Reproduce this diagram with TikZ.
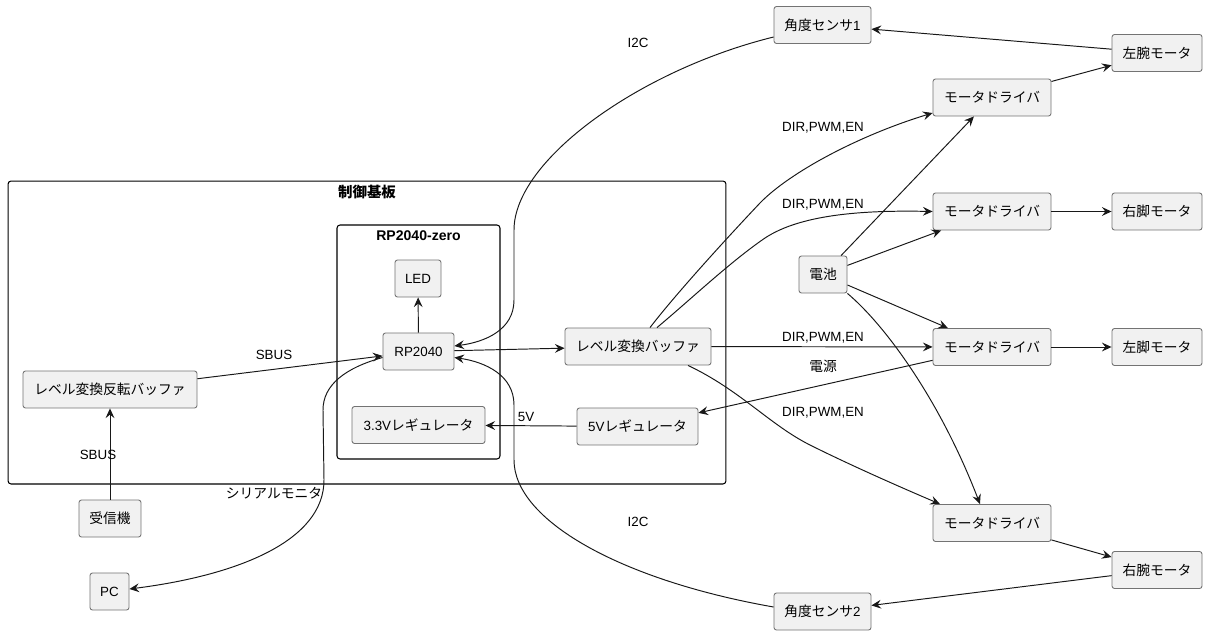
\documentclass[tikz,border=0pt]{standalone}
\usepackage{fontspec}
\setmainfont{Liberation Sans}
\newfontfamily\jpfont{Noto Sans CJK JP}[Scale=1.03]
\newcommand\J[1]{{\jpfont #1}}
\usetikzlibrary{arrows.meta,calc}
\definecolor{boxfill}{HTML}{F1F1F1}
\definecolor{edgecol}{HTML}{181818}
\begin{document}
\begin{tikzpicture}[x=0.02cm,y=-0.02cm,
  box/.style={draw=black!55, line width=0.5pt, fill=boxfill, rounded corners=0.05cm,
    minimum height=0.74cm, inner sep=0pt, font=\fontsize{7.6}{9}\selectfont},
  frame/.style={draw=black, line width=0.6pt, rounded corners=0.06cm, inner sep=0pt},
  title/.style={font=\fontsize{8}{10}\selectfont\bfseries, inner sep=0pt},
  lbl/.style={font=\fontsize{7.6}{9}\selectfont, inner sep=0pt},
  conn/.style={draw=edgecol, line width=0.55pt, -{Stealth[length=5.5pt,width=5pt,inset=2pt]}}]
\useasboundingbox (0,0) rectangle (1207,635);
\fill[white] (0,0) rectangle (1207,635);

% frames
\node[frame, minimum width=14.36cm, minimum height=6.06cm] (board) at (367,332.5) {};
\node[title] (boardtitle) at (367,192) {\J{制御基板}};
\node[frame, minimum width=3.26cm, minimum height=4.68cm] (rpzero) at (418.5,342) {};
\node[title] (rptitle) at (418.5,236) {RP2040-zero};

% nodes
\node[box, minimum width=1.94cm] (s1) at (822.5,25) {\J{角度センサ}1};
\node[box, minimum width=1.80cm] (lam) at (1157,53) {\J{左腕モータ}};
\node[box, minimum width=2.36cm] (md1) at (992,97.5) {\J{モータドライバ}};
\node[box, minimum width=2.36cm] (md2) at (992,211.5) {\J{モータドライバ}};
\node[box, minimum width=1.80cm] (rlm) at (1157,211.5) {\J{右脚モータ}};
\node[box, minimum width=0.96cm] (bat) at (823,274.5) {\J{電池}};
\node[box, minimum width=2.36cm] (md3) at (992,347) {\J{モータドライバ}};
\node[box, minimum width=1.80cm] (llm) at (1157,347) {\J{左脚モータ}};
\node[box, minimum width=2.36cm] (md4) at (992,523) {\J{モータドライバ}};
\node[box, minimum width=1.80cm] (ram) at (1157,570) {\J{右腕モータ}};
\node[box, minimum width=1.94cm] (s2) at (822.5,611.5) {\J{角度センサ}2};
\node[box, minimum width=0.92cm] (led) at (418,278.5) {LED};
\node[box, minimum width=1.42cm] (rp) at (418.5,351.5) {RP2040};
\node[box, minimum width=2.66cm] (r33) at (418.5,425) {3.3V\J{レギュレータ}};
\node[box, minimum width=2.92cm] (lvb) at (638,346.5) {\J{レベル変換バッファ}};
\node[box, minimum width=2.42cm] (r5) at (637.5,426.5) {5V\J{レギュレータ}};
\node[box, minimum width=3.48cm] (lvi) at (110,389.5) {\J{レベル変換反転バッファ}};
\node[box, minimum width=1.24cm] (rx) at (110,518.5) {\J{受信機}};
\node[box, minimum width=0.78cm] (pc) at (109.5,591.5) {PC};

% straight connectors
\draw[conn] (rx) -- (lvi);
\draw[conn] (lvi) -- (rp);
\draw[conn] (rp) -- (led);
\draw[conn] (rp) -- (lvb);
\draw[conn] (r5) -- (r33);
\draw[conn] (md3) -- (r5);
\draw[conn] (lvb) -- (md3);
\draw[conn] (bat) -- (md1);
\draw[conn] (bat) -- (md2);
\draw[conn] (bat) -- (md3);
\draw[conn] (md1) -- (lam);
\draw[conn] (md2) -- (rlm);
\draw[conn] (md3) -- (llm);
\draw[conn] (md4) -- (ram);
\draw[conn] (lam) -- (s1);
\draw[conn] (ram) -- (s2);

% curved connectors
\draw[conn] ($(s1.west)+(0,12)$) .. controls (640,70) and (514,160) .. (514,230)
  -- (514,300) .. controls (514,330) and (485,342) .. ($(rp.east)+(0,-5.5)$);
\draw[conn] ($(s2.west)+(0,-4.5)$) .. controls (620,580) and (514,520) .. (514,460)
  -- (514,405) .. controls (514,375) and (485,362) .. ($(rp.east)+(0,6)$);
\draw[conn] ($(rp.west)+(0,6)$) .. controls (345,368) and (323,385) .. (323,410)
  -- (324,480) .. controls (324,540) and (240,575) .. ($(pc.east)+(0,-2.5)$);
\draw[conn] ($(lvb.north)+(12,0)$) .. controls (675,295) and (725,240) .. (760,203)
  .. controls (790,172) and (860,135) .. ($(md1.west)+(0,15.5)$);
\draw[conn] ($(lvb.north)+(19,0)$) .. controls (690,300) and (730,262) .. (765,238)
  .. controls (800,215) and (860,210) .. (md2.west);
\draw[conn] ($(lvb.south)+(50,0)$) .. controls (740,390) and (770,425) .. (810,445)
  .. controls (850,465) and (900,487) .. ($(md4.north)+(-52,0)$);
\draw[conn] (bat.south east) .. controls (885,325) and (940,400) .. ($(md4.north)+(-12,0)$);

% labels
\node[lbl] (l1) at (638,43) {I2C};
\node[lbl] (l2) at (638,522) {I2C};
\node[lbl] (l3) at (823,128) {DIR,PWM,EN};
\node[lbl] (l4) at (823,205) {DIR,PWM,EN};
\node[lbl] (l5) at (823,338) {DIR,PWM,EN};
\node[lbl] (l6) at (823,413) {DIR,PWM,EN};
\node[lbl] (l7) at (823,366) {\J{電源}};
\node[lbl] (l8) at (526,417) {5V};
\node[lbl] (l9) at (274,355) {SBUS};
\node[lbl] (l10) at (98,455) {SBUS};
\node[lbl] (l11) at (274,493) {\J{シリアルモニタ}};
\end{tikzpicture}
\end{document}
